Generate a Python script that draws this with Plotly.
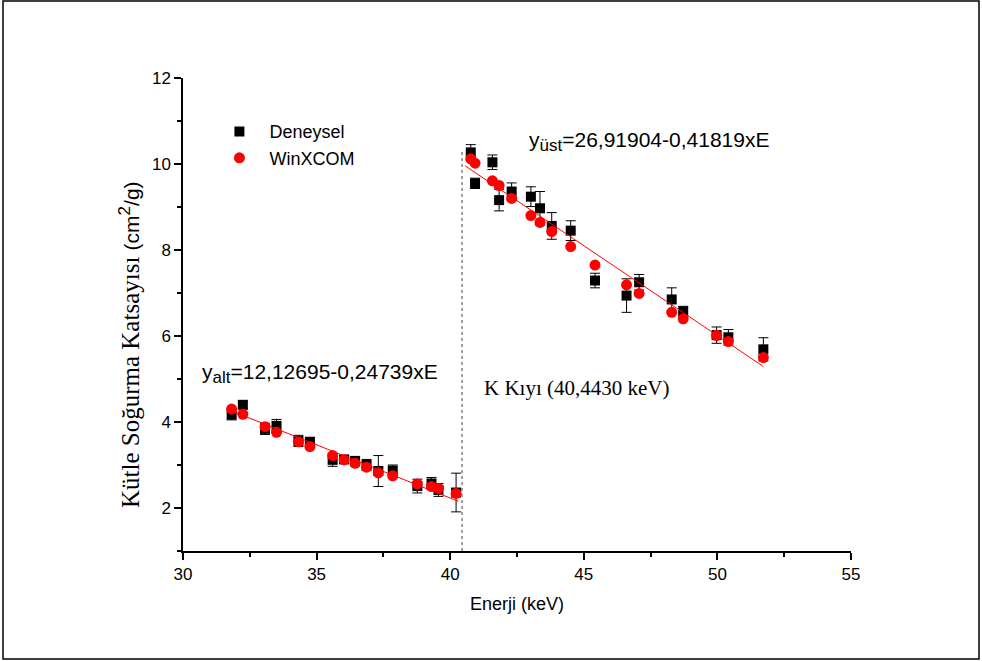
import plotly.graph_objects as go

# Energies (keV) below and above the K edge
energy_low = [31.82, 32.24, 33.07, 33.50, 34.32, 34.75, 35.60, 36.03,
              36.44, 36.87, 37.31, 37.85, 38.77, 39.30, 39.56, 40.22]
energy_high = [40.77, 40.93, 41.58, 41.83, 42.30, 43.02, 43.36, 43.80,
               44.51, 45.42, 46.60, 47.07, 48.29, 48.72, 49.97, 50.41, 51.72]

# Measured mass attenuation coefficients (cm2/g) and their uncertainties
exp_low = [4.17, 4.40, 3.84, 3.91, 3.56, 3.54, 3.12, 3.13,
           3.09, 3.00, 2.86, 2.87, 2.51, 2.57, 2.42, 2.36]
err_low = [0.12, 0.09, 0.13, 0.15, 0.13, 0.10, 0.15, 0.09,
           0.11, 0.13, 0.36, 0.13, 0.16, 0.14, 0.15, 0.45]
exp_high = [10.27, 9.55, 10.04, 9.16, 9.36, 9.24, 8.97, 8.56,
            8.45, 7.29, 6.94, 7.25, 6.85, 6.57, 6.02, 5.97, 5.69]
err_high = [0.18, 0.12, 0.17, 0.25, 0.20, 0.23, 0.39, 0.31,
            0.23, 0.17, 0.39, 0.18, 0.27, 0.12, 0.19, 0.18, 0.27]

# WinXCOM theoretical values (cm2/g)
xcom_low = [4.30, 4.18, 3.89, 3.76, 3.54, 3.43, 3.22, 3.12,
            3.04, 2.95, 2.82, 2.75, 2.56, 2.50, 2.46, 2.34]
xcom_high = [10.12, 10.02, 9.61, 9.50, 9.20, 8.80, 8.64, 8.43,
             8.08, 7.65, 7.19, 6.99, 6.55, 6.40, 6.01, 5.87, 5.50]

# Linear fits on each side of the edge
fit_low = (12.12695, -0.24739)
fit_high = (26.91904, -0.41819)
fit_low_range = [31.80, 40.30]
fit_high_range = [40.55, 51.72]

k_edge = 40.4430
k_edge_top = 10.35

x_ticks = [30, 35, 40, 45, 50, 55]
y_ticks = [2, 4, 6, 8, 10, 12]

SANS = "Liberation Sans, Arial, sans-serif"
SERIF = "Liberation Serif, Times New Roman, serif"
GAP = "\u00a0\u00a0"


def sub(s, px=17):
    return f"<sub><span style='font-size:{px}px'>{s}</span></sub>"


fig = go.Figure()

energy_all = energy_low + energy_high
fig.add_trace(go.Scatter(
    x=energy_all, y=exp_low + exp_high, mode="markers", name=GAP + "Deneysel",
    marker=dict(symbol="square", size=10, color="black"),
    error_y=dict(type="data", array=err_low + err_high, color="black",
                 thickness=1, width=5),
))

fig.add_trace(go.Scatter(
    x=energy_all, y=xcom_low + xcom_high, mode="markers", name=GAP + "WinXCOM",
    marker=dict(symbol="circle", size=11, color="#ff0000"),
))

for (a, b), rng in ((fit_low, fit_low_range), (fit_high, fit_high_range)):
    fig.add_trace(go.Scatter(
        x=rng, y=[a + b * e for e in rng], mode="lines", showlegend=False,
        line=dict(color="#ff0000", width=1),
    ))

# K-edge marker
fig.add_shape(type="line", xref="x", yref="y", x0=k_edge, x1=k_edge,
              y0=1, y1=k_edge_top, line=dict(color="#444444", width=1, dash="dot"))

# Frame around the whole figure
fig.add_shape(type="rect", xref="paper", yref="paper",
              x0=(3 - 183) / 668, x1=(979 - 183) / 668,
              y0=(551 - 659) / 473, y1=(551 - 1) / 473,
              line=dict(color="black", width=1.5), layer="below")

fig.add_annotation(x=30.62, y=5.12, xref="x", yref="y", xanchor="left", yanchor="middle",
                   text="y" + sub("alt") + "=12,12695-0,24739xE", showarrow=False,
                   font=dict(family=SANS, size=21, color="black"))
fig.add_annotation(x=42.87, y=10.52, xref="x", yref="y", xanchor="left", yanchor="middle",
                   text="y" + sub("üst") + "=26,91904-0,41819xE", showarrow=False,
                   font=dict(family=SANS, size=21, color="black"))
fig.add_annotation(x=41.20, y=4.79, xref="x", yref="y", xanchor="left", yanchor="middle",
                   text="K Kıyı (40,4430 keV)", showarrow=False,
                   font=dict(family=SERIF, size=21, color="black"))

# Y-axis title: serif name, sans-serif unit
fig.add_annotation(x=(129 - 183) / 668, y=(551 - 345) / 473, xref="paper", yref="paper",
                   textangle=-90, showarrow=False, xanchor="center", yanchor="middle",
                   text=("Kütle Soğurma Katsayısı "
                         f"<span style='font-family:{SANS}; font-size:21px'>(cm"
                         "<sup><span style='font-size:17px'>2</span></sup>/g)</span>"),
                   font=dict(family=SERIF, size=25, color="black"))

axis_common = dict(
    showline=True, linecolor="black", linewidth=1.5, mirror=False,
    showgrid=False, zeroline=False, ticks="outside", ticklen=7, tickwidth=1.5,
    tickcolor="black", tickfont=dict(family=SANS, size=17, color="black"),
)

fig.update_xaxes(range=[30, 55], tickvals=x_ticks,
                 minor=dict(dtick=2.5, ticks="outside", ticklen=4, tickwidth=1.5, tickcolor="black"),
                 title=dict(text="Enerji (keV)", font=dict(family=SANS, size=18, color="black"),
                            standoff=14),
                 **axis_common)
fig.update_yaxes(range=[1, 12], tickvals=y_ticks,
                 minor=dict(dtick=1, ticks="outside", ticklen=4, tickwidth=1.5, tickcolor="black"),
                 **axis_common)

fig.update_layout(
    width=982, height=661,
    margin=dict(l=183, r=131, t=78, b=110),
    plot_bgcolor="white", paper_bgcolor="white",
    legend=dict(x=0.0545, y=0.859, xanchor="left", yanchor="middle",
                bgcolor="rgba(0,0,0,0)", font=dict(family=SANS, size=18, color="black"),
                tracegroupgap=0, itemwidth=30),
    showlegend=True,
)

fig.write_html("out.html")
